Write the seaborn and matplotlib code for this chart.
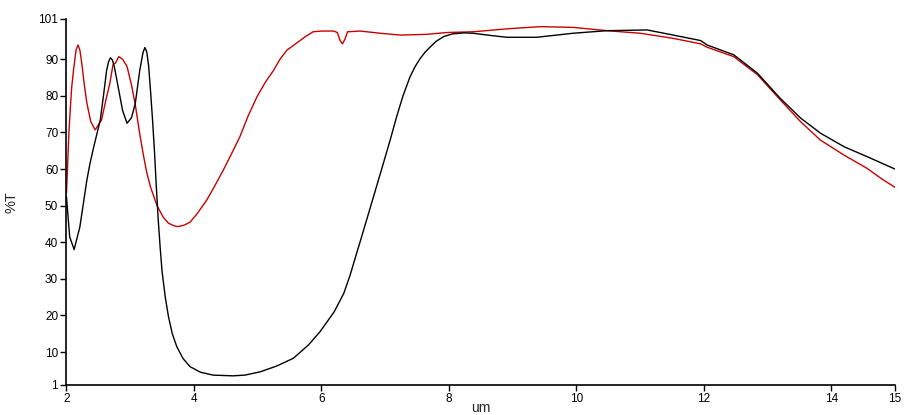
import matplotlib
matplotlib.use("Agg")
import matplotlib.pyplot as plt
import seaborn as sns
import pandas as pd

# Black spectrum (wavelength um, %T)
black_x = [2.00, 2.05, 2.12, 2.21, 2.32, 2.37, 2.42, 2.53, 2.58, 2.63, 2.66, 2.69, 2.72,
           2.75, 2.81, 2.88, 2.95, 3.02, 3.08, 3.15, 3.20, 3.23, 3.26, 3.29, 3.32, 3.35,
           3.38, 3.41, 3.44, 3.47, 3.50, 3.55, 3.60, 3.66, 3.73, 3.83, 3.94, 4.10, 4.30,
           4.61, 4.80, 5.04, 5.30, 5.56, 5.80, 5.98, 6.20, 6.35, 6.45, 6.53, 6.61, 6.75,
           6.92, 7.08, 7.18, 7.28, 7.39, 7.47, 7.55, 7.63, 7.71, 7.80, 7.92, 8.05, 8.23,
           8.38, 8.65, 8.91, 9.38, 9.95, 10.48, 11.11, 11.52, 11.95, 12.05, 12.47, 12.84,
           13.20, 13.52, 13.83, 14.20, 14.56, 14.92, 15.00]
black_y = [52.4, 41.5, 38.0, 44.2, 57.0, 61.6, 65.5, 73.4, 80.0, 87.0, 89.3, 90.4, 89.8,
           88.0, 82.5, 76.0, 72.5, 74.0, 78.0, 87.0, 91.8, 93.2, 92.0, 88.0, 81.0, 73.5,
           65.0, 55.0, 46.0, 38.5, 32.0, 25.0, 19.7, 15.0, 11.5, 8.2, 6.0, 4.5, 3.7,
           3.5, 3.7, 4.6, 6.2, 8.3, 12.0, 15.6, 21.0, 26.0, 31.0, 35.7, 40.3, 48.5,
           58.5, 68.0, 74.3, 80.0, 85.2, 88.0, 90.2, 92.0, 93.4, 94.9, 96.2, 96.9, 97.2,
           97.1, 96.5, 96.0, 96.0, 97.1, 97.8, 98.0, 96.6, 95.1, 93.9, 91.2, 86.2,
           79.3, 73.9, 69.8, 66.1, 63.4, 60.6, 60.0]

# Red spectrum (wavelength um, %T)
red_x = [2.00, 2.04, 2.08, 2.11, 2.15, 2.18, 2.21, 2.24, 2.28, 2.32, 2.38, 2.45, 2.55,
         2.62, 2.68, 2.73, 2.77, 2.82, 2.88, 2.95, 3.02, 3.08, 3.15, 3.21, 3.26, 3.32,
         3.36, 3.42, 3.52, 3.60, 3.70, 3.76, 3.85, 3.94, 4.05, 4.20, 4.33, 4.46, 4.59,
         4.72, 4.85, 4.99, 5.12, 5.25, 5.35, 5.46, 5.61, 5.75, 5.87, 6.00, 6.19, 6.25,
         6.29, 6.33, 6.37, 6.41, 6.61, 6.92, 7.24, 7.65, 7.97, 8.38, 8.91, 9.43, 9.95,
         10.48, 11.00, 11.52, 11.95, 12.05, 12.47, 12.84, 13.20, 13.52, 13.83, 14.20,
         14.56, 14.80, 15.00]
red_y = [53.5, 70.7, 82.0, 87.0, 92.5, 93.9, 92.5, 88.9, 83.0, 78.0, 73.0, 70.7, 73.4,
         79.0, 83.4, 88.5, 89.0, 90.7, 90.0, 88.0, 83.0, 77.5, 69.5, 63.5, 59.0, 55.0,
         53.0, 50.0, 46.8, 45.2, 44.4, 44.3, 44.7, 45.5, 47.8, 51.5, 55.5, 59.7, 64.2,
         68.8, 74.5, 79.8, 83.7, 87.0, 90.0, 92.5, 94.4, 96.2, 97.5, 97.7, 97.7, 97.3,
         95.2, 94.2, 95.5, 97.5, 97.7, 97.1, 96.6, 96.8, 97.3, 97.5, 98.3, 98.9, 98.7,
         97.8, 97.1, 95.7, 94.2, 93.3, 90.7, 85.8, 78.9, 72.9, 67.9, 63.8,
         60.2, 57.2, 55.0]

x_ticks = [2, 4, 6, 8, 10, 12, 14, 15]
y_ticks = [1, 10, 20, 30, 40, 50, 60, 70, 80, 90, 101]

sns.set_theme(style="ticks")
plt.rcParams['font.family'] = ['Liberation Sans', 'DejaVu Sans']

fig = plt.figure(figsize=(9.12, 4.15), dpi=100)
ax = fig.add_axes([0.0729, 0.0723, 0.9085, 0.882])

df_b = pd.DataFrame({"um": black_x, "T": black_y})
df_r = pd.DataFrame({"um": red_x, "T": red_y})
sns.lineplot(data=df_r, x="um", y="T", ax=ax, color="#c80000", linewidth=1.0, sort=False)
sns.lineplot(data=df_b, x="um", y="T", ax=ax, color="black", linewidth=1.0, sort=False)

ax.set_xlim(2, 15)
ax.set_ylim(1, 101)
ax.set_xticks(x_ticks)
ax.set_xticklabels([str(t) for t in x_ticks])
ax.set_yticks(y_ticks)
ax.set_yticklabels([str(t) for t in y_ticks])
ax.tick_params(axis="both", direction="out", length=4, width=1, labelsize=8.5,
               colors="black", pad=2)
for s in ["top", "right"]:
    ax.spines[s].set_visible(False)
for s in ["left", "bottom"]:
    ax.spines[s].set_color("black")
    ax.spines[s].set_linewidth(1.2)
ax.set_xlabel("um", fontsize=10, labelpad=-3)
ax.set_ylabel("%T", fontsize=10.5, labelpad=14)

fig.savefig("out.png", dpi=100)
